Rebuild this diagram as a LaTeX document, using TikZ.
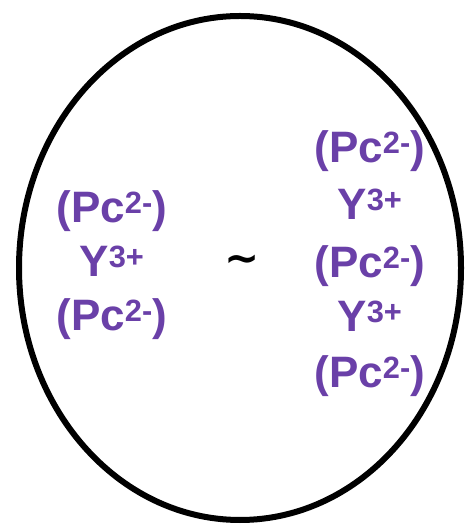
\documentclass[tikz,border=0pt]{standalone}
\usepackage{fontspec}
\setmainfont{Liberation Sans}
\newfontfamily\symfont{DejaVu Sans}
\definecolor{pcpurple}{HTML}{6A40A8}
\begin{document}
\begin{tikzpicture}[x=1pt,y=1pt,
  lbl/.style={text=pcpurple,font=\fontsize{44}{50}\selectfont\bfseries,inner sep=0pt,anchor=base}]
\useasboundingbox (0,0) rectangle (470,532);
\draw[line width=6pt] (240,264) ellipse [x radius=221, y radius=252];
\newcommand{\pcion}{(Pc\textsuperscript{2-})}
\newcommand{\yion}{Y\textsuperscript{3+}}
% left column
\node[lbl] (l1) at (112,309) {\pcion};
\node[lbl] (l2) at (112,255) {\yion};
\node[lbl] (l3) at (112,201) {\pcion};
% tilde
\node[font=\symfont\fontsize{42}{46}\selectfont\bfseries,inner sep=0pt] (t) at (242,268) {∼};
% right column
\node[lbl] (r1) at (370,369) {\pcion};
\node[lbl] (r2) at (370,312) {\yion};
\node[lbl] (r3) at (370,254) {\pcion};
\node[lbl] (r4) at (370,200) {\yion};
\node[lbl] (r5) at (370,144) {\pcion};
\end{tikzpicture}
\end{document}
